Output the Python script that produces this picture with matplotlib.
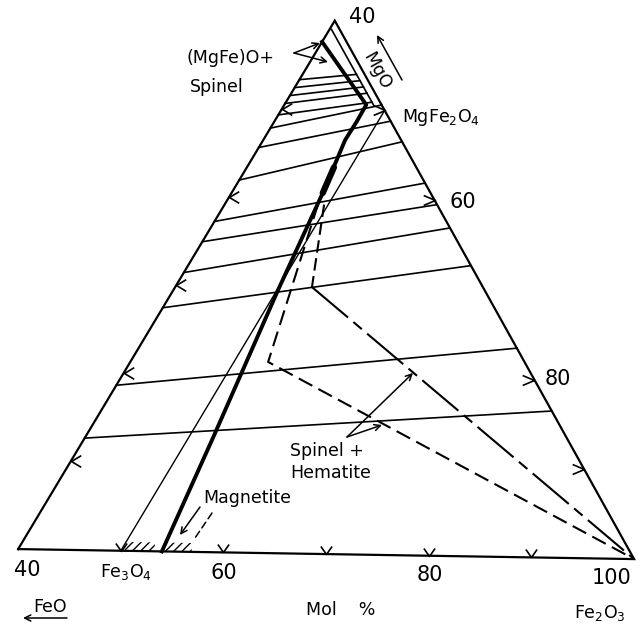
import numpy as np
import matplotlib
matplotlib.use("Agg")
import matplotlib.pyplot as plt
from matplotlib.transforms import Affine2D
from matplotlib.path import Path
from matplotlib.patches import Polygon

plt.rcParams['lines.scale_dashes'] = False
plt.rcParams['hatch.linewidth'] = 1.0
plt.rcParams['font.family'] = ['DejaVu Sans']

# compositions in mol %, given as (FeO, MgO); Fe2O3 = 100 - FeO - MgO
# the drawn triangle is Fe2O3 >= 40

# lines running across the field (left edge -> right side)
tie_left_mgo = [53.3, 52.4, 51.5, 50.6, 49.3, 47.8, 45.6, 41.9, 37.2, 34.9, 31.4, 27.4, 18.6, 12.6]
tie_right_feo = [0.8, 0.8, 0.8, 0.8, 0.8, 0.0, 0.0, 0.0, 0.0, 0.0, 0.0, 0.0, 0.0, 0.0]
tie_right_mgo = [54.0, 53.3, 52.6, 51.9, 50.9, 50.6, 48.8, 46.5, 41.9, 39.5, 36.9, 32.7, 23.5, 16.5]

# spinel boundary (heavy line)
spinel_feo = [2.4, 1.5, 3.35, 5.5, 10.6, 20.3, 35.0, 46.0]
spinel_mgo = [57.6, 50.6, 48.7, 46.6, 40.6, 29.6, 12.6, 0.0]
bold_feo = [8.1, 10.6]
bold_mgo = [43.5, 40.6]

# narrow band along the MgO - Fe2O3 side
band_feo = [0.8, 0.8]
band_mgo = [59.0, 50.5]

# Fe3O4 - MgFe2O4 join
join_feo = [50.0, 0.0]
join_mgo = [0.0, 50.0]

# dashed boundaries
dash1_feo = [11.7, 25.2, 0.0]
dash1_mgo = [39.3, 21.5, 0.0]
dash2_feo = [11.1, 16.8]
dash2_mgo = [39.3, 30.0]
dashdot_feo = [16.8, 0.0]
dashdot_mgo = [30.0, 0.0]

# hatched strips at the magnetite end
hatch1_feo = [49.6, 46.7, 46.2, 49.1]
hatch1_mgo = [0.0, 0.0, 1.0, 1.0]
hatch2_feo = [45.7, 43.1, 42.6, 45.2]
hatch2_mgo = [0.0, 0.0, 1.0, 1.0]

# ticks
left_ticks_mgo = [10, 20, 30, 40, 50]
right_ticks_fe2o3 = [50, 60, 80, 90]
bottom_ticks_fe2o3 = [50, 60, 70, 80, 90]


def tern(feo, mgo):
    feo = np.asarray(feo, dtype=float)
    mgo = np.asarray(mgo, dtype=float)
    wa = mgo / 60.0
    wl = feo / 60.0
    wr = 1.0 - wa - wl
    return wr + 0.5 * wa, wa * np.sqrt(3) / 2


fig = plt.figure(figsize=(6.42, 6.24), dpi=100)
ax = fig.add_axes([0, 0, 1, 1])
ax.axis('off')

# scanned figure is rotated a little clockwise
rot = Affine2D().rotate_deg_around(0.5, np.sqrt(3) / 6, -0.93) + ax.transData
px = Affine2D().scale(1, -1).translate(0, 624)   # image pixels for labels

# frame
ax.plot(*tern([60, 0, 0, 60], [0, 0, 60, 0]), color='k', lw=1.6, transform=rot,
        solid_joinstyle='miter')

for ml, fr, mr in zip(tie_left_mgo, tie_right_feo, tie_right_mgo):
    ax.plot(*tern([60 - ml, fr], [ml, mr]), color='k', lw=1.2, transform=rot)

ax.plot(*tern(band_feo, band_mgo), color='k', lw=1.2, transform=rot)
ax.plot(*tern(join_feo, join_mgo), color='k', lw=1.0, transform=rot)
ax.plot(*tern(spinel_feo, spinel_mgo), color='k', lw=2.8, transform=rot,
        solid_joinstyle='round')
ax.plot(*tern(bold_feo, bold_mgo), color='k', lw=4.5, transform=rot,
        solid_capstyle='round')

ax.plot(*tern(dash1_feo, dash1_mgo), color='k', lw=1.5, ls=(0, (11, 5)), transform=rot)
ax.plot(*tern(dash2_feo, dash2_mgo), color='k', lw=1.5, ls=(0, (9, 4)), transform=rot)
ax.plot(*tern(dashdot_feo, dashdot_mgo), color='k', lw=1.5, ls=(0, (34, 5, 8, 5)),
        transform=rot)

for hf, hm in [(hatch1_feo, hatch1_mgo), (hatch2_feo, hatch2_mgo)]:
    ax.add_patch(Polygon(np.column_stack(tern(hf, hm)), closed=True, facecolor='none',
                         edgecolor='k', hatch='////', lw=0, transform=rot))

# tick marks
codes = [Path.MOVETO, Path.LINETO, Path.LINETO]
left_tick = Path([(1, 0.6), (0, 0), (1, -0.6)], codes)
right_tick = Path([(-1, 0.42), (0, 0), (-1, -0.42)], codes)
bottom_tick = Path([(-0.7, 1), (0, 0), (0.7, 1)], codes)
lt = np.array(left_ticks_mgo, dtype=float)
ax.plot(*tern(60 - lt, lt), ls='none', marker=left_tick, ms=14, mfc='none',
        mec='k', mew=1.2, transform=rot)
rt = np.array(right_ticks_fe2o3, dtype=float)
ax.plot(*tern(np.zeros_like(rt), 100 - rt), ls='none', marker=right_tick, ms=17,
        mfc='none', mec='k', mew=1.2, transform=rot)
bt = np.array(bottom_ticks_fe2o3, dtype=float)
ax.plot(*tern(100 - bt, np.zeros_like(bt)), ls='none', marker=bottom_tick, ms=11.5,
        mfc='none', mec='k', mew=1.2, transform=rot)

# labels
num = dict(fontsize=15, ha='center', va='center', transform=px)
lab = dict(fontsize=12.5, ha='left', va='center', transform=px)
ax.text(362, 17, '40', **num)
ax.text(463, 202, '60', **num)
ax.text(558, 379, '80', **num)
ax.text(27, 570, '40', **num)
ax.text(224, 573, '60', **num)
ax.text(430, 575, '80', **num)
ax.text(612, 578, '100', **num)
ax.text(126, 572, 'Fe$_3$O$_4$', fontsize=12.5, ha='center', va='center', transform=px)
ax.text(600, 613, 'Fe$_2$O$_3$', fontsize=12.5, ha='center', va='center', transform=px)
ax.text(50, 607, 'FeO', fontsize=12.5, ha='center', va='center', transform=px)
ax.text(341, 610, 'Mol    %', fontsize=12.5, ha='center', va='center', transform=px)
ax.text(377, 71, 'MgO', fontsize=12.5, rotation=-61, rotation_mode='anchor',
        ha='center', va='center', transform=px)
ax.text(402, 117, 'MgFe$_2$O$_4$', **lab)
ax.text(187, 58, '(MgFe)O+', **lab)
ax.text(190, 87, 'Spinel', **lab)
ax.text(290, 451, 'Spinel +', **lab)
ax.text(290, 473, 'Hematite', **lab)
ax.text(203, 498, 'Magnetite', **lab)

arr = dict(arrowstyle='->', lw=1.1, color='k', shrinkA=0, shrinkB=0, mutation_scale=11)
for tail, head in [((294, 53), (320, 43)), ((294, 53), (328, 62)),
                   ((347, 437), (413, 373)), ((347, 437), (382, 425)),
                   ((200, 507), (180, 535)), ((402, 80), (377, 35)),
                   ((67, 618), (23, 618))]:
    ax.annotate('', xy=head, xytext=tail, xycoords=px, textcoords=px, arrowprops=arr)
ax.annotate('', xy=(195, 538), xytext=(212, 513), xycoords=px, textcoords=px,
            arrowprops=dict(arrowstyle='-', lw=1.1, ls=(0, (5, 3)), color='k',
                            shrinkA=0, shrinkB=0))

S = 616.0
ax.set_xlim(-21 / S, 621 / S)
ax.set_ylim(-69.9 / S, 554.1 / S)

fig.savefig('out.png', dpi=100, facecolor='white')
